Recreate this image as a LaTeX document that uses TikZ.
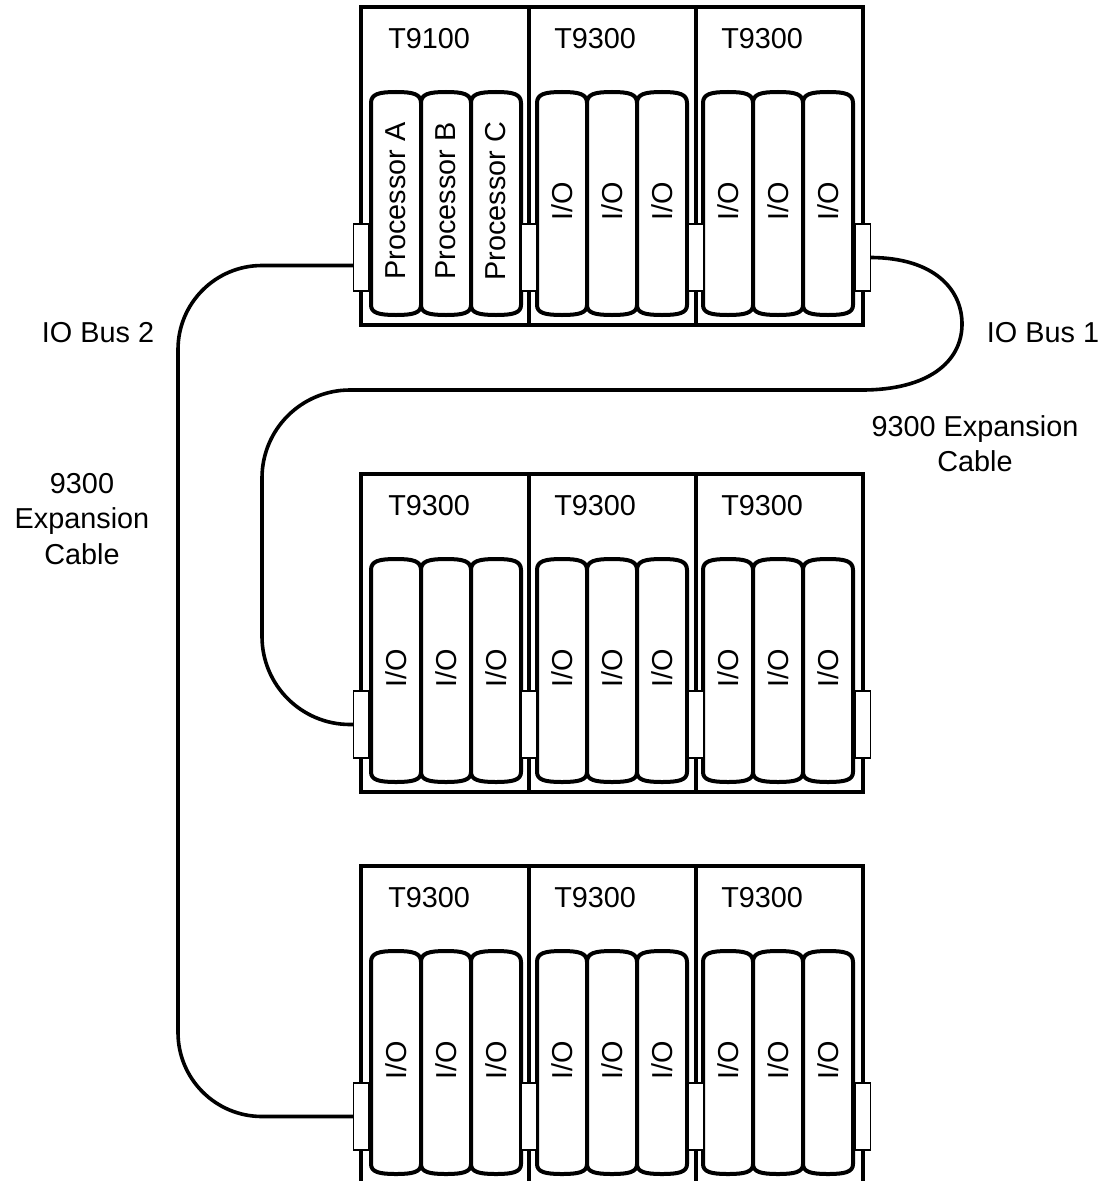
\documentclass[tikz,border=0pt]{standalone}
\usepackage{fontspec}
\setmainfont{Liberation Sans}

\tikzset{
  chassis/.style={line width=1mm},
  module/.style={line width=1mm, fill=white, line join=round},
  connector/.style={draw, rectangle, line width=0.35mm, fill=white, minimum width=3.75mm, minimum height=16.75mm, inner sep=0pt},
  cable/.style={line width=0.9mm},
  txt/.style={font=\fontsize{20.5}{25}\selectfont, inner sep=0pt, align=center},
}

\begin{document}
\begin{tikzpicture}[x=0.25mm,y=-0.25mm]
\clip (0,0) rectangle (1110,1181);
% three chassis, three slots each
\foreach \ty/\r in {7/top,474/mid,866/bot}{
  \draw[chassis] (361,\ty) rectangle (863,\ty+318);
  \draw[chassis] (529,\ty) -- (529,\ty+318) (696,\ty) -- (696,\ty+318);
  \foreach \mx in {371,421,471,537,587,637,703,753,803}
    \draw[module] (\mx,\ty+298) -- (\mx,\ty+96)
      .. controls (\mx,\ty+87) and (\mx+8,\ty+85) .. (\mx+25,\ty+85)
      .. controls (\mx+42,\ty+85) and (\mx+50,\ty+87) .. (\mx+50,\ty+96)
      -- (\mx+50,\ty+298)
      .. controls (\mx+50,\ty+306) and (\mx+42,\ty+308) .. (\mx+25,\ty+308)
      .. controls (\mx+8,\ty+308) and (\mx,\ty+306) .. (\mx,\ty+298) -- cycle;
  \foreach \cx [count=\i] in {361,529,696,863}
    \node[connector] (\r\i) at (\cx,\ty+250.5) {};
}

% slot labels
\node[txt, anchor=west] (t9100) at (388,39) {T9100};
\foreach \cx [count=\i] in {554,721}
  \node[txt, anchor=west] (topslot\i) at (\cx,39) {T9300};
\foreach \ty/\r in {474/mid,866/bot}
  \foreach \cx [count=\i] in {388,554,721}
    \node[txt, anchor=west] (\r slot\i) at (\cx,\ty+32) {T9300};

% module labels
\node[txt, rotate=90] (proca) at (396,201) {Processor A};
\node[txt, rotate=90] (procb) at (446,201) {Processor B};
\node[txt, rotate=90] (procc) at (496,201) {Processor C};
\foreach \mx [count=\i] in {562,612,662,728,778,828}
  \node[txt, rotate=90] (topio\i) at (\mx,201) {I/O};
\foreach \ty/\r in {474/mid,866/bot}
  \foreach \mx [count=\i] in {396,446,496,562,612,662,728,778,828}
    \node[txt, rotate=90] (\r io\i) at (\mx,\ty+194) {I/O};

% expansion cables
\draw[cable, rounded corners=21mm] ([yshift=-2mm]top1.west) -| (178,700) |- (bot1.west);
\draw[cable] (top4.east) .. controls (935,258) and (962,290) .. (962,324)
  .. controls (962,362) and (928,390) .. (862,390)
  [rounded corners=22mm] -- (262,390) |- (mid1.west);

\node[txt] (bustwo) at (98,333) {IO Bus 2};
\node[txt] (cabletwo) at (82,519) {9300\\Expansion\\Cable};
\node[txt] (busone) at (1043,333) {IO Bus 1};
\node[txt] (cableone) at (975,444) {9300 Expansion\\Cable};
\end{tikzpicture}
\end{document}
